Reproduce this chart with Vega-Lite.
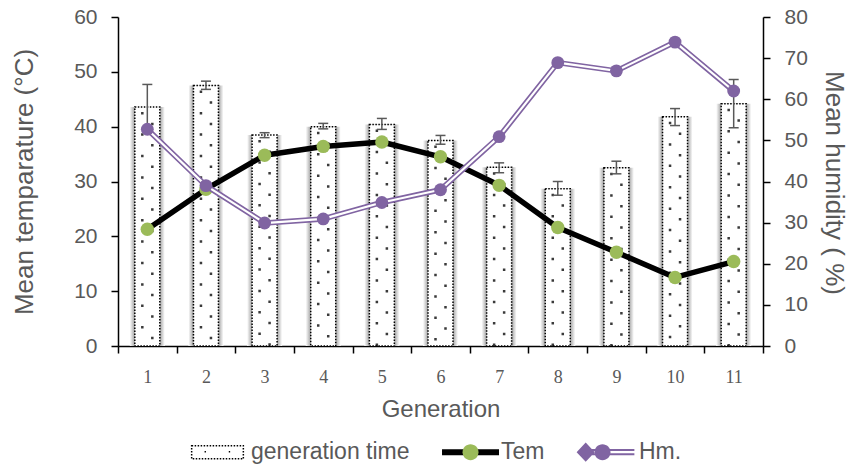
{
  "$schema": "https://vega.github.io/schema/vega-lite/v6.json",
  "width": 645,
  "height": 329,
  "autosize": {"type": "none"},
  "padding": {"left": 118, "top": 17, "right": 88, "bottom": 122},
  "background": "white",
  "data": {
    "values": [
      {"gen": 1, "time": 43.6, "lo": 39.5, "hi": 47.7, "tem": 21.3, "hm": 52.7},
      {"gen": 2, "time": 47.5, "lo": 46.8, "hi": 48.3, "tem": 28.6, "hm": 39.0},
      {"gen": 3, "time": 38.5, "lo": 38.0, "hi": 38.9, "tem": 34.8, "hm": 29.9},
      {"gen": 4, "time": 40.0, "lo": 39.6, "hi": 40.6, "tem": 36.4, "hm": 30.9},
      {"gen": 5, "time": 40.4, "lo": 39.5, "hi": 41.5, "tem": 37.2, "hm": 34.9},
      {"gen": 6, "time": 37.5, "lo": 36.8, "hi": 38.4, "tem": 34.5, "hm": 38.0},
      {"gen": 7, "time": 32.6, "lo": 31.6, "hi": 33.4, "tem": 29.3, "hm": 50.9},
      {"gen": 8, "time": 28.7, "lo": 27.5, "hi": 30.0, "tem": 21.6, "hm": 68.9},
      {"gen": 9, "time": 32.5, "lo": 31.4, "hi": 33.7, "tem": 17.1, "hm": 66.9},
      {"gen": 10, "time": 41.8, "lo": 40.2, "hi": 43.3, "tem": 12.5, "hm": 73.9},
      {"gen": 11, "time": 44.2, "lo": 39.8, "hi": 48.6, "tem": 15.4, "hm": 62.0}
    ]
  },
  "config": {
    "view": {"stroke": null},
    "axis": {
      "grid": false,
      "domainColor": "black",
      "tickColor": "black",
      "domainWidth": 1.5,
      "tickWidth": 1.5,
      "tickSize": 7,
      "labelColor": "#595959",
      "titleColor": "#595959",
      "labelFont": "Liberation Sans",
      "titleFont": "Liberation Sans",
      "titleFontWeight": "normal"
    }
  },
  "resolve": {"scale": {"y": "independent"}},
  "layer": [
    {
      "layer": [
        {
          "mark": {
            "type": "bar",
            "width": 35,
            "fill": {
              "gradient": "linear",
              "x1": 0, "x2": 1, "y1": 0, "y2": 0,
              "stops": [
                {"offset": 0, "color": "#ffffff"},
                {"offset": 0.145, "color": "#a0a0a0"},
                {"offset": 0.5, "color": "#a0a0a0"},
                {"offset": 0.855, "color": "#a0a0a0"},
                {"offset": 1, "color": "#ffffff"}
              ]
            }
          },
          "encoding": {
            "x": {
              "field": "gen",
              "type": "ordinal",
              "scale": {"paddingInner": 0, "paddingOuter": 0},
              "axis": {
                "title": "Generation",
                "labelAngle": 0,
                "labelFont": "Liberation Serif",
                "labelFontSize": 18,
                "labelBaseline": "alphabetic",
                "labelPadding": 29,
                "tickBand": "extent",
                "titleFontSize": 24,
                "titleY": 70.7,
                "titleBaseline": "alphabetic"
              }
            },
            "y": {
              "field": "time",
              "type": "quantitative",
              "scale": {"domain": [0, 60], "nice": false},
              "axis": {
                "title": "Mean temparature (°C)",
                "values": [0, 10, 20, 30, 40, 50, 60],
                "labelFontSize": 21,
                "labelPadding": 14,
                "titleFontSize": 26,
                "titleX": -86,
                "titleY": 164.5,
                "titleAngle": -90,
                "titleAlign": "center",
                "titleBaseline": "alphabetic"
              }
            }
          }
        },
        {
          "mark": {"type": "bar", "width": 25},
          "encoding": {
            "x": {"field": "gen", "type": "ordinal"},
            "y": {"field": "time", "type": "quantitative"},
            "color": {
              "datum": "generation time",
              "scale": {"domain": ["generation time", "Tem", "Hm."], "range": ["#ffffff", "#000000", "#8064a2"]},
              "legend": {
                "orient": "none",
                "legendX": 71,
                "legendY": 406.5,
                "direction": "horizontal",
                "title": null,
                "padding": 0,
                "symbolSize": 3025,
                "symbolOpacity": 1,
                "symbolStrokeWidth": 2,
                "symbolType": {"expr": "(datum.value === 'generation time' ? 'M-0.94,-0.24H0.94V0.24H-0.94Z' : datum.value === 'Tem' ? 'M-0.89,-0.07H1.11V0.07H-0.89Z' : 'M-1,0L-0.72,-0.3L-0.44,0L-0.72,0.3Z M-0.72,-0.08H1.05 M-0.72,0.08H1.05')"},
                "symbolFillColor": {"expr": "(datum.value === 'Hm.' ? '#8064a2' : datum.value === 'Tem' ? '#000000' : '#ffffff')"},
                "symbolStrokeColor": {"expr": "(datum.value === 'Hm.' ? '#8064a2' : datum.value === 'Tem' ? '#000000' : 'transparent')"},
                "labelFont": "Liberation Sans",
                "labelFontSize": 23,
                "labelColor": "#595959",
                "labelOffset": 5,
                "labelLimit": 400,
                "columnPadding": 29,
                "zindex": 0
              }
            }
          }
        },
        {
          "mark": {"type": "rule", "xOffset": -5, "strokeDash": [2.5, 18.9], "strokeDashOffset": 16.4, "strokeWidth": 2.5, "color": "#3a3a3a"},
          "encoding": {
            "x": {"field": "gen", "type": "ordinal"},
            "y": {"field": "time", "type": "quantitative"},
            "y2": {"datum": 0}
          }
        },
        {
          "mark": {"type": "rule", "xOffset": 5, "strokeDash": [2.5, 18.9], "strokeDashOffset": 5.7, "strokeWidth": 2.5, "color": "#3a3a3a"},
          "encoding": {
            "x": {"field": "gen", "type": "ordinal"},
            "y": {"field": "time", "type": "quantitative"},
            "y2": {"datum": 0}
          }
        },
        {
          "mark": {"type": "bar", "width": 25, "fill": "transparent", "stroke": "black", "strokeDash": [1.5, 1.5], "strokeWidth": 1.5},
          "encoding": {
            "x": {"field": "gen", "type": "ordinal"},
            "y": {"field": "time", "type": "quantitative"}
          }
        },
        {
          "mark": {"type": "rule", "color": "#595959", "strokeWidth": 1.5},
          "encoding": {
            "x": {"field": "gen", "type": "ordinal"},
            "y": {"field": "lo", "type": "quantitative"},
            "y2": {"field": "hi"}
          }
        },
        {
          "mark": {"type": "tick", "color": "#595959", "thickness": 1.5, "size": 10, "opacity": 1},
          "encoding": {
            "x": {"field": "gen", "type": "ordinal"},
            "y": {"field": "hi", "type": "quantitative"}
          }
        },
        {
          "mark": {"type": "tick", "color": "#595959", "thickness": 1.5, "size": 10, "opacity": 1},
          "encoding": {
            "x": {"field": "gen", "type": "ordinal"},
            "y": {"field": "lo", "type": "quantitative"}
          }
        },
        {
          "mark": {"type": "line", "strokeWidth": 5.5, "strokeJoin": "round"},
          "encoding": {
            "x": {"field": "gen", "type": "ordinal"},
            "y": {"field": "tem", "type": "quantitative"},
            "color": {"datum": "Tem"}
          }
        },
        {
          "mark": {"type": "circle", "size": 180, "opacity": 1},
          "encoding": {
            "x": {"field": "gen", "type": "ordinal"},
            "y": {"field": "tem", "type": "quantitative"},
            "fill": {
              "datum": "t",
              "scale": {"domain": ["g", "t", "h"], "range": ["transparent", "#9bbb59", "#8064a2"]},
              "legend": {
                "orient": "none",
                "legendX": 71,
                "legendY": 406.5,
                "direction": "horizontal",
                "title": null,
                "padding": 0,
                "symbolSize": 3025,
                "symbolOpacity": 1,
                "symbolStrokeWidth": 1.5,
                "symbolType": {"expr": "(datum.value === 'g' ? 'M-0.94,-0.24H0.94V0.24H-0.94Z M-0.47,-0.02H-0.42 M0.41,-0.02H0.46' : datum.value === 't' ? 'M-0.18,0A0.29,0.29 0 1 0 0.4,0A0.29,0.29 0 1 0 -0.18,0Z' : 'M-0.29,0A0.29,0.29 0 1 0 0.29,0A0.29,0.29 0 1 0 -0.29,0Z')"},
                "symbolStrokeColor": {"expr": "(datum.value === 'g' ? '#000000' : 'transparent')"},
                "symbolDash": {"expr": "(datum.value === 'g' ? [1.5, 1.5] : [1, 0])"},
                "labelFont": "Liberation Sans",
                "labelFontSize": 23,
                "labelColor": "#595959",
                "labelOpacity": 0,
                "labelOffset": 5,
                "labelLimit": 400,
                "columnPadding": 29,
                "zindex": 1,
                "labelExpr": "datum.value === 'g' ? 'generation time' : datum.value === 't' ? 'Tem' : 'Hm.'"
              }
            }
          }
        }
      ]
    },
    {
      "layer": [
        {
          "mark": {"type": "line", "strokeWidth": 5.5, "strokeJoin": "round"},
          "encoding": {
            "x": {"field": "gen", "type": "ordinal"},
            "y": {
              "field": "hm",
              "type": "quantitative",
              "scale": {"domain": [0, 80], "nice": false},
              "axis": {
                "orient": "right",
                "title": "Mean humidity ( %)",
                "values": [0, 10, 20, 30, 40, 50, 60, 70, 80],
                "labelFontSize": 21,
                "labelPadding": 14,
                "titleFontSize": 26,
                "titleX": 62,
                "titleY": 165.5,
                "titleAngle": 90,
                "titleAlign": "center",
                "titleBaseline": "alphabetic"
              }
            },
            "color": {"datum": "Hm."}
          }
        },
        {
          "mark": {"type": "line", "strokeWidth": 2.2, "color": "#ffffff", "strokeJoin": "round"},
          "encoding": {
            "x": {"field": "gen", "type": "ordinal"},
            "y": {"field": "hm", "type": "quantitative"}
          }
        },
        {
          "mark": {"type": "circle", "size": 165, "opacity": 1},
          "encoding": {
            "x": {"field": "gen", "type": "ordinal"},
            "y": {"field": "hm", "type": "quantitative"},
            "fill": {"datum": "h"}
          }
        }
      ]
    }
  ]
}
